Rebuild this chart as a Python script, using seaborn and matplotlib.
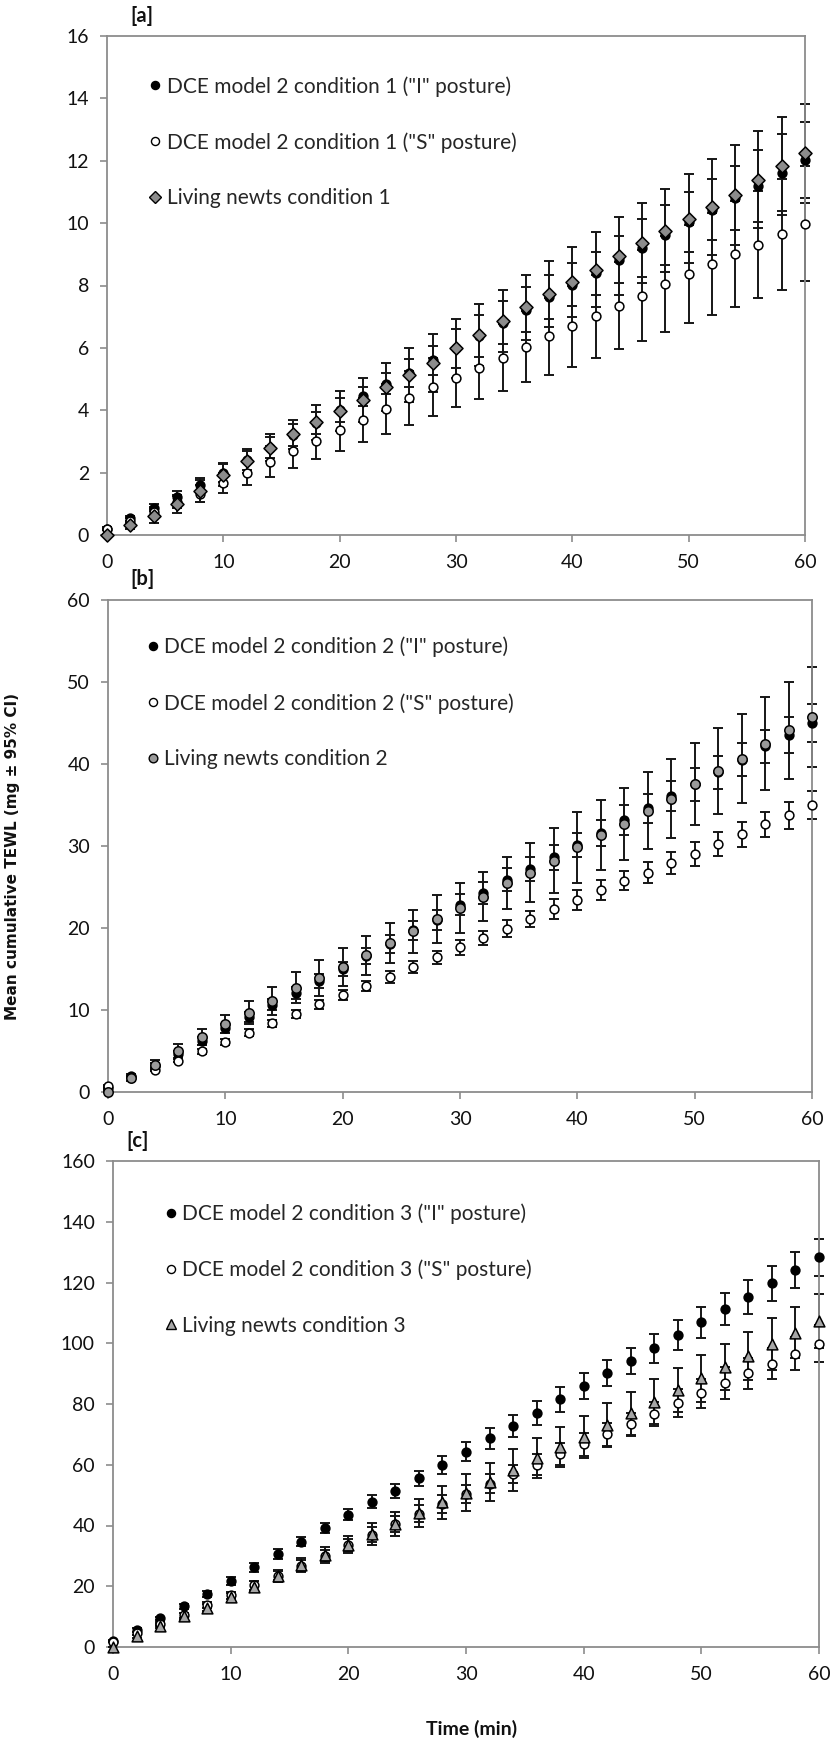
import numpy as np
import pandas as pd
import seaborn as sns
import matplotlib.pyplot as plt
from matplotlib.lines import Line2D

# ---- data: cumulative TEWL (mg), sampled every 2 min ----
time_min = [0, 2, 4, 6, 8, 10, 12, 14, 16, 18, 20, 22, 24, 26, 28, 30,
            32, 34, 36, 38, 40, 42, 44, 46, 48, 50, 52, 54, 56, 58, 60]

# condition 1
i_posture_c1 = [0.2, 0.54, 0.88, 1.22, 1.6, 2.0, 2.4, 2.8, 3.2, 3.6, 4.0, 4.45, 4.85, 5.2, 5.6, 5.98,
                6.38, 6.8, 7.22, 7.64, 8.03, 8.4, 8.83, 9.2, 9.62, 10.03, 10.43, 10.81, 11.2, 11.62, 12.02]
i_posture_c1_ci = [0.05, 0.08, 0.11, 0.19, 0.24, 0.3, 0.3, 0.33, 0.35, 0.35, 0.39, 0.3, 0.33, 0.45, 0.47, 0.63,
                   0.68, 0.69, 0.72, 0.71, 0.69, 0.69, 0.75, 0.94, 0.96, 0.96, 0.98, 1.02, 1.16, 1.24, 1.22]
s_posture_c1 = [0.18, 0.45, 0.75, 1.05, 1.33, 1.66, 2.0, 2.35, 2.68, 3.02, 3.36, 3.69, 4.04, 4.39, 4.73, 5.05,
                5.37, 5.69, 6.04, 6.37, 6.69, 7.02, 7.35, 7.67, 8.05, 8.37, 8.69, 9.01, 9.31, 9.65, 9.98]
s_posture_c1_ci = [0.02, 0.08, 0.14, 0.2, 0.26, 0.32, 0.4, 0.49, 0.54, 0.59, 0.66, 0.71, 0.79, 0.87, 0.93, 0.96,
                   1.01, 1.07, 1.15, 1.23, 1.29, 1.33, 1.39, 1.46, 1.53, 1.58, 1.64, 1.69, 1.71, 1.78, 1.84]
newts_c1 = [0.0, 0.32, 0.61, 0.99, 1.41, 1.93, 2.38, 2.8, 3.23, 3.61, 3.98, 4.34, 4.75, 5.14, 5.53, 5.98,
            6.42, 6.87, 7.3, 7.73, 8.12, 8.5, 8.94, 9.36, 9.76, 10.14, 10.51, 10.91, 11.39, 11.83, 12.24]
newts_c1_ci = [0.02, 0.12, 0.22, 0.3, 0.34, 0.36, 0.38, 0.43, 0.46, 0.56, 0.64, 0.71, 0.77, 0.86, 0.93, 0.95,
               0.99, 1.0, 1.05, 1.07, 1.13, 1.2, 1.25, 1.27, 1.34, 1.42, 1.54, 1.61, 1.56, 1.56, 1.59]

# condition 2
i_posture_c2 = [0.5, 1.98, 3.2, 4.6, 6.23, 7.77, 9.19, 10.65, 12.11, 13.52, 15.0, 16.6, 18.0, 19.7, 21.0, 22.84,
                24.25, 25.87, 27.17, 28.63, 30.12, 31.62, 33.16, 34.58, 36.07, 37.53, 39.0, 40.53, 42.15, 43.5, 44.98]
i_posture_c2_ci = [0.1, 0.2, 0.3, 0.4, 0.5, 0.55, 0.6, 0.7, 0.75, 0.85, 0.9, 1.0, 1.1, 1.15, 1.25, 1.3,
                   1.35, 1.4, 1.45, 1.5, 1.5, 1.6, 1.8, 1.8, 1.85, 2.0, 2.0, 2.05, 2.05, 2.2, 2.3]
s_posture_c2 = [0.77, 1.8, 2.71, 3.8, 4.94, 6.11, 7.25, 8.38, 9.56, 10.69, 11.78, 12.91, 14.05, 15.27, 16.43, 17.65,
                18.79, 19.92, 21.09, 22.31, 23.44, 24.66, 25.79, 26.76, 27.9, 29.03, 30.25, 31.42, 32.64, 33.76, 34.98]
s_posture_c2_ci = [0.05, 0.1, 0.15, 0.2, 0.25, 0.35, 0.4, 0.45, 0.5, 0.55, 0.6, 0.65, 0.7, 0.75, 0.8, 0.9,
                   0.9, 1.0, 1.0, 1.17, 1.2, 1.2, 1.15, 1.3, 1.35, 1.45, 1.5, 1.55, 1.55, 1.65, 1.7]
newts_c2 = [0.04, 1.66, 3.32, 4.94, 6.72, 8.26, 9.68, 11.05, 12.71, 13.93, 15.27, 16.68, 18.18, 19.6, 21.1, 22.43,
            23.84, 25.47, 26.76, 28.22, 29.84, 31.34, 32.67, 34.29, 35.79, 37.53, 39.15, 40.66, 42.48, 44.1, 45.79]
newts_c2_ci = [0.1, 0.3, 0.6, 0.9, 1.0, 1.1, 1.37, 1.7, 1.9, 2.2, 2.3, 2.4, 2.45, 2.6, 2.95, 3.1,
               3.0, 3.2, 3.6, 4.0, 4.3, 4.3, 4.4, 4.7, 4.85, 5.0, 5.2, 5.45, 5.7, 5.9, 6.1]

# condition 3
i_posture_c3 = [2.0, 5.6, 9.4, 13.4, 17.6, 21.8, 26.2, 30.6, 34.7, 39.1, 43.5, 47.9, 51.4, 55.6, 60.0, 64.3,
                68.7, 72.8, 77.1, 81.5, 86.0, 90.1, 94.2, 98.3, 102.7, 106.9, 111.2, 115.3, 119.7, 124.1, 128.3]
i_posture_c3_ci = [0.3, 0.5, 0.6, 0.8, 1.0, 1.3, 1.4, 1.5, 1.6, 1.7, 1.8, 2.0, 2.2, 2.5, 2.9, 3.2,
                   3.4, 3.6, 4.0, 4.1, 4.3, 4.3, 4.4, 4.7, 5.0, 5.1, 5.3, 5.6, 5.7, 6.0, 6.0]
s_posture_c3 = [1.8, 4.5, 7.5, 10.5, 13.8, 17.0, 20.3, 23.5, 26.8, 30.0, 33.5, 37.0, 40.5, 43.8, 47.2, 50.4,
                53.8, 57.0, 60.0, 63.5, 66.8, 70.1, 73.4, 76.7, 80.2, 83.5, 87.0, 90.1, 93.3, 96.6, 99.9]
s_posture_c3_ci = [0.2, 0.4, 0.6, 0.8, 1.0, 1.2, 1.4, 1.6, 1.8, 2.0, 2.2, 2.4, 2.6, 2.8, 3.0, 3.0,
                   3.0, 3.0, 3.5, 3.5, 3.8, 3.8, 3.8, 4.0, 4.6, 4.7, 5.2, 5.0, 5.2, 5.4, 6.0]
newts_c3 = [0.0, 3.5, 6.9, 10.2, 13.0, 16.3, 19.9, 23.4, 27.0, 30.3, 33.6, 37.2, 40.5, 44.2, 47.6, 50.8,
            54.4, 58.3, 62.1, 65.9, 69.2, 73.1, 76.9, 80.8, 84.6, 88.4, 92.3, 95.8, 99.7, 103.5, 107.4]
newts_c3_ci = [0.1, 0.5, 0.8, 1.1, 1.3, 1.5, 1.8, 2.0, 2.4, 2.7, 2.8, 3.5, 4.0, 4.6, 5.3, 6.1,
               6.3, 6.8, 6.6, 6.6, 6.9, 7.3, 7.1, 7.4, 7.1, 7.7, 7.6, 8.0, 8.5, 8.5, 8.8]

panel_tags = ["[a]", "[b]", "[c]"]
y_limits = [16, 60, 160]
y_steps = [2, 10, 20]
x_ticks = [0, 10, 20, 30, 40, 50, 60]

series_labels = [
    ['DCE model 2 condition 1 ("I" posture)', 'DCE model 2 condition 1 ("S" posture)', 'Living newts condition 1'],
    ['DCE model 2 condition 2 ("I" posture)', 'DCE model 2 condition 2 ("S" posture)', 'Living newts condition 2'],
    ['DCE model 2 condition 3 ("I" posture)', 'DCE model 2 condition 3 ("S" posture)', 'Living newts condition 3'],
]
series_values = [
    [(i_posture_c1, i_posture_c1_ci), (s_posture_c1, s_posture_c1_ci), (newts_c1, newts_c1_ci)],
    [(i_posture_c2, i_posture_c2_ci), (s_posture_c2, s_posture_c2_ci), (newts_c2, newts_c2_ci)],
    [(i_posture_c3, i_posture_c3_ci), (s_posture_c3, s_posture_c3_ci), (newts_c3, newts_c3_ci)],
]

# ---- styling ----
sns.set_theme(style="white")
plt.rcParams["font.family"] = ["Lato", "DejaVu Sans"]

W, H = 830, 1745
# plot boxes in pixels: left, top, right, bottom
boxes = [(107, 36, 805, 535), (108, 600, 812, 1092), (113, 1161, 819, 1647)]
legend_anchor = [(0.057, 0.92), (0.052, 0.925), (0.07, 0.912)]
tag_pos = [(142, 16), (143, 579), (138, 1141)]
newt_marker = ["D", "o", "^"]
newt_fill = ["#8c8c8c", "#9a9a9a", "#a6a6a6"]
newt_size = [44, 46, 60]
spine_grey = "#8c8c8c"
tick_font = 14

fig = plt.figure(figsize=(W / 100, H / 100), dpi=100)

for k in range(3):
    l, t, r, b = boxes[k]
    ax = fig.add_axes([l / W, 1 - b / H, (r - l) / W, (b - t) / H])
    labels = series_labels[k]
    styles = [("o", "black", 40), ("o", "white", 40), (newt_marker[k], newt_fill[k], newt_size[k])]

    frames = []
    for lab, (vals, ci) in zip(labels, series_values[k]):
        frames.append(pd.DataFrame({"time": time_min, "tewl": vals, "ci": ci, "series": lab}))
    df = pd.concat(frames, ignore_index=True)

    # 95% CI bars
    for lab in labels:
        d = df[df["series"] == lab]
        ax.errorbar(d["time"], d["tewl"], yerr=d["ci"], fmt="none", ecolor="#161616",
                    elinewidth=1.4, capsize=3.6, capthick=1.4, zorder=2, clip_on=False)

    # means
    for lab, (mk, fc, sz) in zip(labels, styles):
        sns.scatterplot(data=df[df["series"] == lab], x="time", y="tewl", marker=mk,
                        color=fc, edgecolor="black", linewidth=1.1, s=sz, ax=ax,
                        legend=False, zorder=3, clip_on=False)

    ax.set_xlim(0, 60)
    ax.set_ylim(0, y_limits[k])
    ax.set_xticks(x_ticks)
    ax.set_yticks(np.arange(0, y_limits[k] + 1, y_steps[k]))
    ax.set_xlabel("")
    ax.set_ylabel("")
    for sp in ax.spines.values():
        sp.set_color(spine_grey)
        sp.set_linewidth(1.3)
        sp.set_visible(True)
    ax.tick_params(axis="both", which="major", direction="out", length=5, width=1.2,
                   color=spine_grey, labelsize=tick_font, labelcolor="#111111")
    ax.tick_params(axis="x", pad=9, bottom=True, top=False)
    ax.tick_params(axis="y", pad=8, left=True, right=False)
    ax.grid(False)

    handles = [Line2D([], [], ls="", marker=mk, markerfacecolor=fc, markeredgecolor="black",
                      markeredgewidth=1.0, markersize=np.sqrt(sz) * 0.92)
               for mk, fc, sz in styles]
    ax.legend(handles, labels, loc="upper left", bbox_to_anchor=legend_anchor[k],
              frameon=False, fontsize=15, labelspacing=1.7, handletextpad=0.15,
              handlelength=0.8, borderaxespad=0, borderpad=0)

    fig.text(tag_pos[k][0] / W, 1 - tag_pos[k][1] / H, panel_tags[k], fontsize=14.5,
             fontweight="bold", ha="center", va="center", color="#111111")

fig.text(13 / W, 1 - 856 / H, "Mean cumulative TEWL (mg \u00b1 95% CI)", rotation=90,
         ha="center", va="center", fontsize=11, fontweight="bold", family="DejaVu Sans",
         color="#111111")
fig.text(472 / W, 1 - 1729 / H, "Time (min)", ha="center", va="center",
         fontsize=14, fontweight="bold", color="#111111")

fig.savefig("out.png", dpi=100, facecolor="white")
